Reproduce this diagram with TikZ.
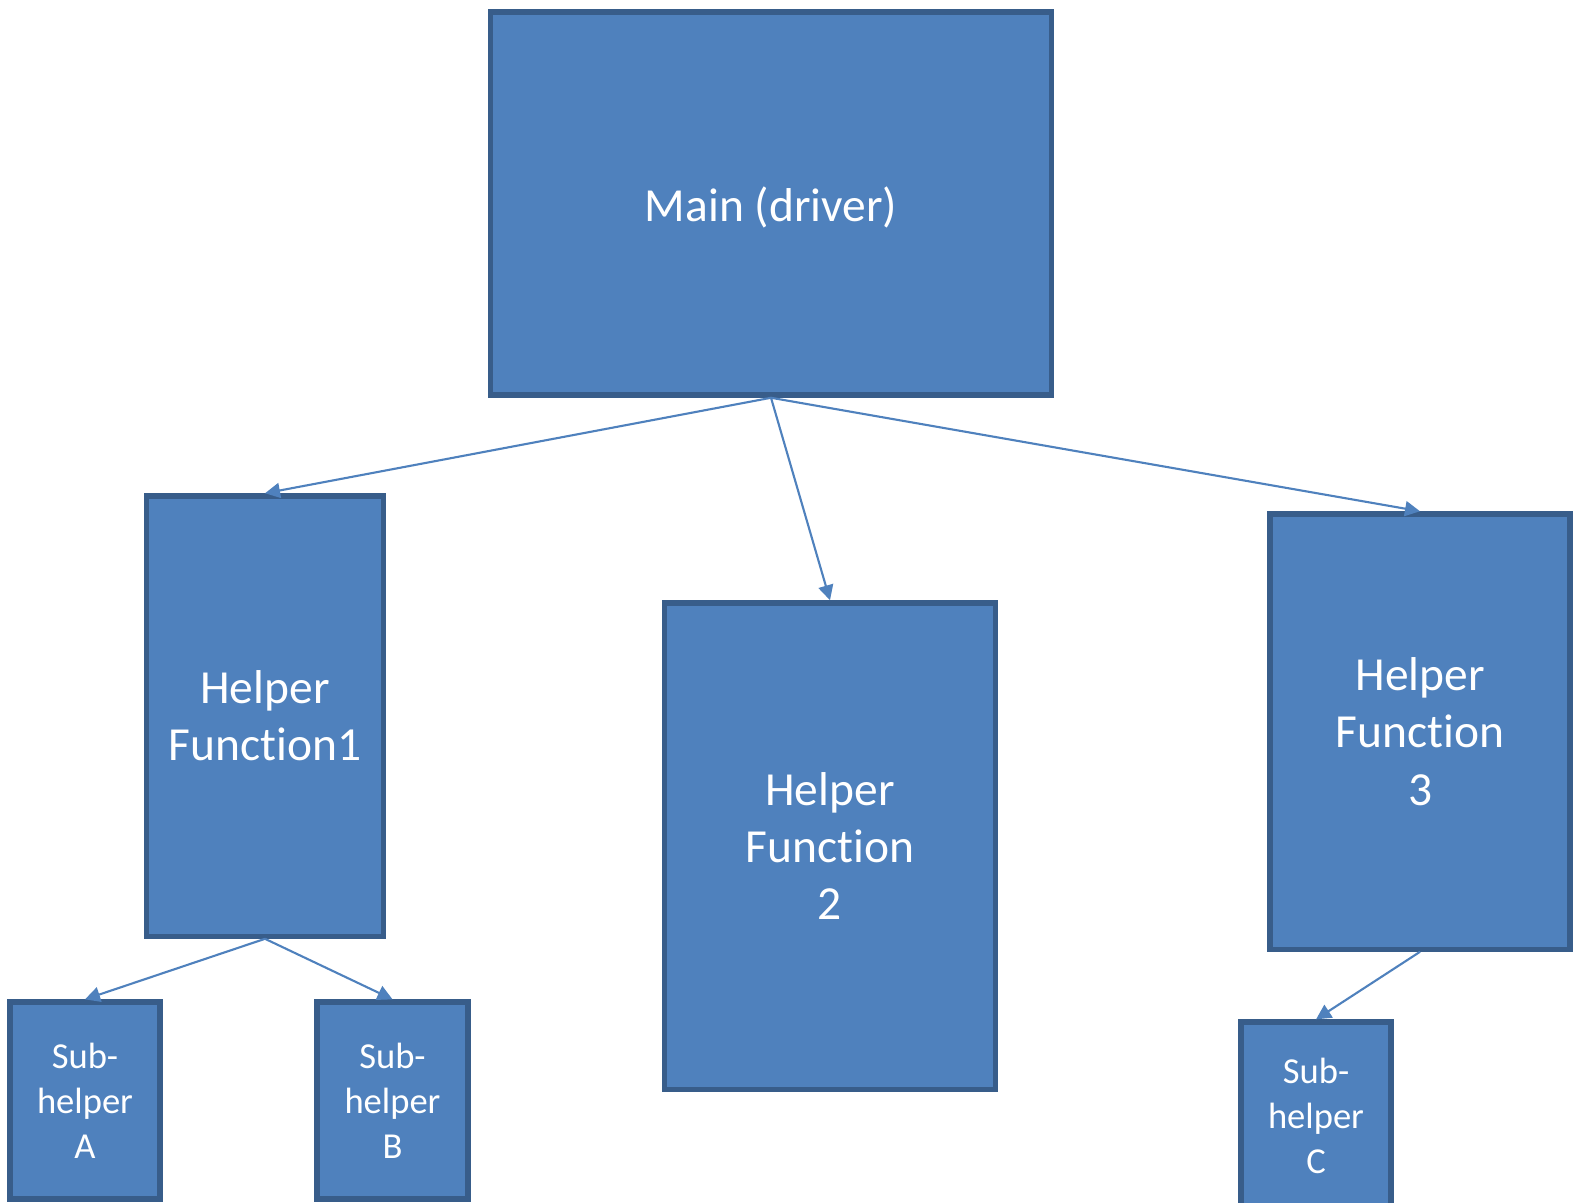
\documentclass[tikz,border=0pt]{standalone}
\usepackage{fontspec}
\setmainfont{Carlito}[Ligatures=NoCommon]
\usetikzlibrary{arrows.meta}
\definecolor{boxfill}{HTML}{4F81BD}
\definecolor{boxline}{HTML}{385D8A}
\tikzset{
	fnbox/.style={draw=boxline, fill=boxfill, line width=1.5pt, text=white, align=center, inner sep=0pt},
	bigtext/.style={font=\fontsize{13.5}{16.3}\selectfont},
	smalltext/.style={font=\fontsize{10.4}{12.8}\selectfont},
	call/.style={draw=boxfill, line width=0.6pt, -{Triangle[length=0.15cm,width=0.15cm]}}
}

\begin{document}
\begin{tikzpicture}[x=0.01cm, y=-0.01cm]
			%%%%% START %%%%%
			\useasboundingbox (0, 0) rectangle (1574, 1202);
			
			\node[fnbox, bigtext, minimum width=5.6cm, minimum height=3.83cm] (main) at (771, 203.5) {\raisebox{-0.04cm}[\height][\depth]{Main (driver)}};
			
			\node[fnbox, bigtext, minimum width=2.37cm, minimum height=4.40cm] (helperA) at (265, 716) {Helper\\Function1};
			\node[fnbox, bigtext, minimum width=3.31cm, minimum height=4.86cm] (helperB) at (830, 846) {Helper\\Function\\2};
			\node[fnbox, bigtext, minimum width=3.0cm, minimum height=4.35cm] (helperC) at (1420, 731.5) {Helper\\Function\\3};
			
			\node[fnbox, smalltext, minimum width=1.50cm, minimum height=1.97cm] (subA) at (85, 1100.5) {Sub-\\helper\\A};
			\node[fnbox, smalltext, minimum width=1.51cm, minimum height=1.97cm] (subB) at (392.5, 1100.5) {Sub-\\helper\\B};
			% runs off the bottom edge
			\node[fnbox, smalltext, minimum width=1.50cm, minimum height=1.88cm] (subC) at (1316, 1116) {Sub-\\helper\\C};
			
			\draw[call] (main.south) -- (helperA.north);
			\draw[call] (main.south) -- (helperB.north);
			\draw[call] (main.south) -- (helperC.north);
			
			\draw[call] (helperA.south) -- (subA.north);
			\draw[call] (helperA.south) -- (subB.north);
			\draw[call] (helperC.south) -- (subC.north);
			%%%%% END %%%%%
\end{tikzpicture}
\end{document}
